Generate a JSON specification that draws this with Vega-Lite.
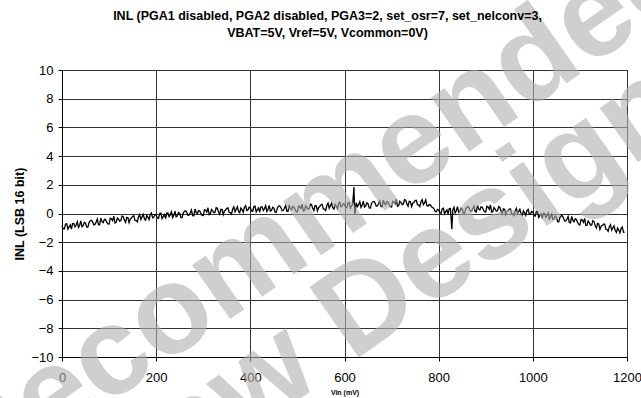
{
  "$schema": "https://vega.github.io/schema/vega-lite/v6.json",
  "width": 565,
  "height": 287,
  "autosize": {"type": "none"},
  "padding": {"left": 62, "top": 70, "right": 14, "bottom": 41},
  "background": "white",
  "config": {
    "font": "Liberation Sans",
    "view": {"stroke": "black", "strokeWidth": 1},
    "axis": {"labelFont": "Liberation Sans", "titleFont": "Liberation Sans", "labelColor": "black", "titleColor": "black", "domainColor": "black", "tickColor": "black", "gridColor": "#333333", "gridOpacity": 1, "gridWidth": 1, "tickSize": 4, "domainWidth": 1, "labelOverlap": false}
  },
  "title": {
    "text": ["INL (PGA1 disabled, PGA2 disabled, PGA3=2, set_osr=7, set_nelconv=3,", "VBAT=5V, Vref=5V, Vcommon=0V)"],
    "font": "Liberation Sans",
    "fontSize": 12.5,
    "fontWeight": "bold",
    "color": "black",
    "anchor": "middle",
    "frame": "group",
    "dx": -17,
    "dy": 166,
    "offset": 30,
    "lineHeight": 17
  },
  "datasets": {
    "inl": [
      {"v":0,"inl":-0.85},{"v":5,"inl":-1.08},{"v":10,"inl":-0.71},{"v":15,"inl":-0.93},{"v":20,"inl":-1.08},{"v":25,"inl":-0.69},{"v":30,"inl":-0.80},{"v":35,"inl":-0.97},{"v":40,"inl":-0.52},{"v":45,"inl":-0.85},
      {"v":50,"inl":-0.68},{"v":55,"inl":-0.95},{"v":60,"inl":-0.50},{"v":65,"inl":-0.58},{"v":70,"inl":-0.76},{"v":75,"inl":-0.39},{"v":80,"inl":-0.79},{"v":85,"inl":-0.57},{"v":90,"inl":-0.41},{"v":95,"inl":-0.60},
      {"v":100,"inl":-0.74},{"v":105,"inl":-0.37},{"v":110,"inl":-0.19},{"v":115,"inl":-0.62},{"v":120,"inl":-0.40},{"v":125,"inl":-0.49},{"v":130,"inl":-0.21},{"v":135,"inl":-0.62},{"v":140,"inl":-0.28},{"v":145,"inl":-0.39},
      {"v":150,"inl":-0.19},{"v":155,"inl":-0.48},{"v":160,"inl":-0.58},{"v":165,"inl":-0.07},{"v":170,"inl":-0.23},{"v":175,"inl":-0.38},{"v":180,"inl":-0.14},{"v":185,"inl":-0.43},{"v":190,"inl":0.03},{"v":195,"inl":-0.26},
      {"v":200,"inl":-0.10},{"v":205,"inl":-0.34},{"v":210,"inl":0.03},{"v":215,"inl":-0.21},{"v":220,"inl":-0.36},{"v":225,"inl":0.03},{"v":230,"inl":-0.09},{"v":235,"inl":-0.28},{"v":240,"inl":0.17},{"v":245,"inl":-0.17},
      {"v":250,"inl":0.00},{"v":255,"inl":-0.29},{"v":260,"inl":0.16},{"v":265,"inl":0.08},{"v":270,"inl":-0.11},{"v":275,"inl":0.25},{"v":280,"inl":-0.16},{"v":285,"inl":0.06},{"v":290,"inl":0.21},{"v":295,"inl":0.01},
      {"v":300,"inl":-0.14},{"v":305,"inl":0.23},{"v":310,"inl":0.40},{"v":315,"inl":-0.03},{"v":320,"inl":0.18},{"v":325,"inl":0.09},{"v":330,"inl":0.36},{"v":335,"inl":-0.05},{"v":340,"inl":0.28},{"v":345,"inl":0.17},
      {"v":350,"inl":0.36},{"v":355,"inl":0.07},{"v":360,"inl":-0.04},{"v":365,"inl":0.47},{"v":370,"inl":0.30},{"v":375,"inl":0.15},{"v":380,"inl":0.38},{"v":385,"inl":0.09},{"v":390,"inl":0.54},{"v":395,"inl":0.25},
      {"v":400,"inl":0.40},{"v":405,"inl":0.15},{"v":410,"inl":0.51},{"v":415,"inl":0.26},{"v":420,"inl":0.09},{"v":425,"inl":0.46},{"v":430,"inl":0.34},{"v":435,"inl":0.14},{"v":440,"inl":0.57},{"v":445,"inl":0.22},
      {"v":450,"inl":0.38},{"v":455,"inl":0.08},{"v":460,"inl":0.51},{"v":465,"inl":0.41},{"v":470,"inl":0.22},{"v":475,"inl":0.56},{"v":480,"inl":0.14},{"v":485,"inl":0.34},{"v":490,"inl":0.49},{"v":495,"inl":0.27},
      {"v":500,"inl":0.11},{"v":505,"inl":0.48},{"v":510,"inl":0.65},{"v":515,"inl":0.22},{"v":520,"inl":0.43},{"v":525,"inl":0.34},{"v":530,"inl":0.61},{"v":535,"inl":0.20},{"v":540,"inl":0.53},{"v":545,"inl":0.42},
      {"v":550,"inl":0.61},{"v":555,"inl":0.32},{"v":560,"inl":0.21},{"v":565,"inl":0.72},{"v":570,"inl":0.55},{"v":575,"inl":0.40},{"v":580,"inl":0.63},{"v":585,"inl":0.34},{"v":590,"inl":0.79},{"v":595,"inl":0.50},
      {"v":600,"inl":0.65},{"v":605,"inl":0.41},{"v":610,"inl":0.77},{"v":615,"inl":0.52},{"v":620,"inl":1.85},{"v":622,"inl":-0.10},{"v":625,"inl":0.74},{"v":630,"inl":0.62},{"v":635,"inl":0.42},{"v":640,"inl":0.86},{"v":645,"inl":0.52},
      {"v":650,"inl":0.68},{"v":655,"inl":0.38},{"v":660,"inl":0.82},{"v":665,"inl":0.73},{"v":670,"inl":0.54},{"v":675,"inl":0.88},{"v":680,"inl":0.47},{"v":685,"inl":0.68},{"v":690,"inl":0.83},{"v":695,"inl":0.61},
      {"v":700,"inl":0.46},{"v":705,"inl":0.82},{"v":710,"inl":0.99},{"v":715,"inl":0.55},{"v":720,"inl":0.76},{"v":725,"inl":0.66},{"v":730,"inl":0.93},{"v":735,"inl":0.51},{"v":740,"inl":0.83},{"v":745,"inl":0.72},
      {"v":750,"inl":0.90},{"v":755,"inl":0.61},{"v":760,"inl":0.49},{"v":765,"inl":0.96},{"v":770,"inl":0.74},{"v":775,"inl":0.55},{"v":780,"inl":0.62},{"v":785,"inl":0.45},{"v":790,"inl":0.33},{"v":795,"inl":0.12},
      {"v":800,"inl":0.25},{"v":805,"inl":0.01},{"v":810,"inl":0.37},{"v":815,"inl":0.13},{"v":820,"inl":-0.03},{"v":825,"inl":0.35},{"v":828,"inl":-1.10},{"v":830,"inl":0.23},{"v":835,"inl":0.04},{"v":840,"inl":0.48},{"v":845,"inl":0.14},
      {"v":850,"inl":0.30},{"v":855,"inl":0.01},{"v":860,"inl":0.45},{"v":865,"inl":0.36},{"v":870,"inl":0.17},{"v":875,"inl":0.52},{"v":880,"inl":0.11},{"v":885,"inl":0.32},{"v":890,"inl":0.47},{"v":895,"inl":0.26},
      {"v":900,"inl":0.11},{"v":905,"inl":0.45},{"v":910,"inl":0.59},{"v":915,"inl":0.13},{"v":920,"inl":0.31},{"v":925,"inl":0.19},{"v":930,"inl":0.43},{"v":935,"inl":-0.01},{"v":940,"inl":0.29},{"v":945,"inl":0.15},
      {"v":950,"inl":0.31},{"v":955,"inl":-0.01},{"v":960,"inl":-0.14},{"v":965,"inl":0.35},{"v":970,"inl":0.15},{"v":975,"inl":-0.03},{"v":980,"inl":0.18},{"v":985,"inl":-0.14},{"v":990,"inl":0.29},{"v":995,"inl":-0.03},
      {"v":1000,"inl":0.10},{"v":1005,"inl":-0.18},{"v":1010,"inl":0.14},{"v":1015,"inl":-0.14},{"v":1020,"inl":-0.34},{"v":1025,"inl":0.00},{"v":1030,"inl":-0.16},{"v":1035,"inl":-0.39},{"v":1040,"inl":0.01},{"v":1045,"inl":-0.37},
      {"v":1050,"inl":-0.25},{"v":1055,"inl":-0.58},{"v":1060,"inl":-0.17},{"v":1065,"inl":-0.30},{"v":1070,"inl":-0.52},{"v":1075,"inl":-0.21},{"v":1080,"inl":-0.65},{"v":1085,"inl":-0.48},{"v":1090,"inl":-0.36},{"v":1095,"inl":-0.61},
      {"v":1100,"inl":-0.79},{"v":1105,"inl":-0.47},{"v":1110,"inl":-0.34},{"v":1115,"inl":-0.82},{"v":1120,"inl":-0.65},{"v":1125,"inl":-0.79},{"v":1130,"inl":-0.56},{"v":1135,"inl":-1.02},{"v":1140,"inl":-0.73},{"v":1145,"inl":-0.89},
      {"v":1150,"inl":-0.74},{"v":1155,"inl":-1.08},{"v":1160,"inl":-1.24},{"v":1165,"inl":-0.78},{"v":1170,"inl":-1.00},{"v":1175,"inl":-1.19},{"v":1180,"inl":-1.01},{"v":1185,"inl":-1.35},{"v":1190,"inl":-0.95},{"v":1195,"inl":-1.29},
      {"v":2.5,"inl":-1.06},{"v":7.5,"inl":-0.74},{"v":12.5,"inl":-1.09},{"v":17.5,"inl":-0.79},{"v":22.5,"inl":-0.70},{"v":27.5,"inl":-0.93},{"v":32.5,"inl":-0.58},{"v":37.5,"inl":-0.82},{"v":42.5,"inl":-0.92},{"v":47.5,"inl":-0.62},
      {"v":52.5,"inl":-0.95},{"v":57.5,"inl":-0.63},{"v":62.5,"inl":-0.47},{"v":67.5,"inl":-0.79},{"v":72.5,"inl":-0.60},{"v":77.5,"inl":-0.78},{"v":82.5,"inl":-0.32},{"v":87.5,"inl":-0.64},{"v":92.5,"inl":-0.43},{"v":97.5,"inl":-0.73},
      {"v":102.5,"inl":-0.33},{"v":107.5,"inl":-0.50},{"v":112.5,"inl":-0.66},{"v":117.5,"inl":-0.31},{"v":122.5,"inl":-0.53},{"v":127.5,"inl":-0.18},{"v":132.5,"inl":-0.46},{"v":137.5,"inl":-0.27},{"v":142.5,"inl":-0.63},{"v":147.5,"inl":-0.32},
      {"v":152.5,"inl":-0.16},{"v":157.5,"inl":-0.49},{"v":162.5,"inl":-0.23},{"v":167.5,"inl":-0.42},{"v":172.5,"inl":-0.06},{"v":177.5,"inl":-0.47},{"v":182.5,"inl":-0.25},{"v":187.5,"inl":-0.08},{"v":192.5,"inl":-0.30},{"v":197.5,"inl":-0.07},
      {"v":202.5,"inl":-0.31},{"v":207.5,"inl":0.00},{"v":212.5,"inl":-0.36},{"v":217.5,"inl":-0.07},{"v":222.5,"inl":0.02},{"v":227.5,"inl":-0.22},{"v":232.5,"inl":0.12},{"v":237.5,"inl":-0.13},{"v":242.5,"inl":-0.23},{"v":247.5,"inl":0.06},
      {"v":252.5,"inl":-0.28},{"v":257.5,"inl":0.03},{"v":262.5,"inl":0.19},{"v":267.5,"inl":-0.14},{"v":272.5,"inl":0.04},{"v":277.5,"inl":-0.15},{"v":282.5,"inl":0.31},{"v":287.5,"inl":-0.02},{"v":292.5,"inl":0.18},{"v":297.5,"inl":-0.13},
      {"v":302.5,"inl":0.27},{"v":307.5,"inl":0.10},{"v":312.5,"inl":-0.08},{"v":317.5,"inl":0.28},{"v":322.5,"inl":0.05},{"v":327.5,"inl":0.40},{"v":332.5,"inl":0.11},{"v":337.5,"inl":0.30},{"v":342.5,"inl":-0.08},{"v":347.5,"inl":0.24},
      {"v":352.5,"inl":0.39},{"v":357.5,"inl":0.06},{"v":362.5,"inl":0.31},{"v":367.5,"inl":0.12},{"v":372.5,"inl":0.47},{"v":377.5,"inl":0.06},{"v":382.5,"inl":0.27},{"v":387.5,"inl":0.44},{"v":392.5,"inl":0.21},{"v":397.5,"inl":0.44},
      {"v":402.5,"inl":0.18},{"v":407.5,"inl":0.48},{"v":412.5,"inl":0.11},{"v":417.5,"inl":0.39},{"v":422.5,"inl":0.46},{"v":427.5,"inl":0.21},{"v":432.5,"inl":0.54},{"v":437.5,"inl":0.28},{"v":442.5,"inl":0.16},{"v":447.5,"inl":0.44},
      {"v":452.5,"inl":0.09},{"v":457.5,"inl":0.39},{"v":462.5,"inl":0.53},{"v":467.5,"inl":0.19},{"v":472.5,"inl":0.36},{"v":477.5,"inl":0.16},{"v":482.5,"inl":0.60},{"v":487.5,"inl":0.26},{"v":492.5,"inl":0.45},{"v":497.5,"inl":0.13},
      {"v":502.5,"inl":0.52},{"v":507.5,"inl":0.35},{"v":512.5,"inl":0.18},{"v":517.5,"inl":0.53},{"v":522.5,"inl":0.30},{"v":527.5,"inl":0.65},{"v":532.5,"inl":0.36},{"v":537.5,"inl":0.55},{"v":542.5,"inl":0.18},{"v":547.5,"inl":0.49},
      {"v":552.5,"inl":0.64},{"v":557.5,"inl":0.31},{"v":562.5,"inl":0.56},{"v":567.5,"inl":0.37},{"v":572.5,"inl":0.72},{"v":577.5,"inl":0.31},{"v":582.5,"inl":0.52},{"v":587.5,"inl":0.69},{"v":592.5,"inl":0.46},{"v":597.5,"inl":0.69},
      {"v":602.5,"inl":0.43},{"v":607.5,"inl":0.74},{"v":612.5,"inl":0.37},{"v":617.5,"inl":0.66},{"v":627.5,"inl":0.49},{"v":632.5,"inl":0.82},{"v":637.5,"inl":0.57},{"v":642.5,"inl":0.45},{"v":647.5,"inl":0.74},
      {"v":652.5,"inl":0.39},{"v":657.5,"inl":0.70},{"v":662.5,"inl":0.84},{"v":667.5,"inl":0.51},{"v":672.5,"inl":0.68},{"v":677.5,"inl":0.49},{"v":682.5,"inl":0.93},{"v":687.5,"inl":0.60},{"v":692.5,"inl":0.79},{"v":697.5,"inl":0.48},
      {"v":702.5,"inl":0.86},{"v":707.5,"inl":0.69},{"v":712.5,"inl":0.51},{"v":717.5,"inl":0.85},{"v":722.5,"inl":0.62},{"v":727.5,"inl":0.96},{"v":732.5,"inl":0.67},{"v":737.5,"inl":0.85},{"v":742.5,"inl":0.48},{"v":747.5,"inl":0.78},
      {"v":752.5,"inl":0.92},{"v":757.5,"inl":0.59},{"v":762.5,"inl":0.83},{"v":767.5,"inl":0.62},{"v":772.5,"inl":0.95},{"v":777.5,"inl":0.51},{"v":782.5,"inl":0.60},{"v":787.5,"inl":0.42},{"v":792.5,"inl":0.14},{"v":797.5,"inl":0.29},
      {"v":802.5,"inl":0.03},{"v":807.5,"inl":0.34},{"v":812.5,"inl":-0.03},{"v":817.5,"inl":0.26},{"v":822.5,"inl":0.34},{"v":832.5,"inl":0.44},{"v":837.5,"inl":0.19},{"v":842.5,"inl":0.08},{"v":847.5,"inl":0.37},
      {"v":852.5,"inl":0.02},{"v":857.5,"inl":0.33},{"v":862.5,"inl":0.48},{"v":867.5,"inl":0.15},{"v":872.5,"inl":0.32},{"v":877.5,"inl":0.13},{"v":882.5,"inl":0.58},{"v":887.5,"inl":0.25},{"v":892.5,"inl":0.44},{"v":897.5,"inl":0.13},
      {"v":902.5,"inl":0.50},{"v":907.5,"inl":0.30},{"v":912.5,"inl":0.10},{"v":917.5,"inl":0.42},{"v":922.5,"inl":0.16},{"v":927.5,"inl":0.48},{"v":932.5,"inl":0.16},{"v":937.5,"inl":0.32},{"v":942.5,"inl":-0.08},{"v":947.5,"inl":0.20},
      {"v":952.5,"inl":0.32},{"v":957.5,"inl":-0.03},{"v":962.5,"inl":0.19},{"v":967.5,"inl":-0.02},{"v":972.5,"inl":0.30},{"v":977.5,"inl":-0.13},{"v":982.5,"inl":0.05},{"v":987.5,"inl":0.20},{"v":992.5,"inl":-0.06},{"v":997.5,"inl":0.15},
      {"v":1002.5,"inl":-0.14},{"v":1007.5,"inl":0.14},{"v":1012.5,"inl":-0.28},{"v":1017.5,"inl":-0.03},{"v":1022.5,"inl":0.02},{"v":1027.5,"inl":-0.27},{"v":1032.5,"inl":0.03},{"v":1037.5,"inl":-0.27},{"v":1042.5,"inl":-0.42},{"v":1047.5,"inl":-0.17},
      {"v":1052.5,"inl":-0.55},{"v":1057.5,"inl":-0.28},{"v":1062.5,"inl":-0.16},{"v":1067.5,"inl":-0.53},{"v":1072.5,"inl":-0.39},{"v":1077.5,"inl":-0.62},{"v":1082.5,"inl":-0.20},{"v":1087.5,"inl":-0.57},{"v":1092.5,"inl":-0.41},{"v":1097.5,"inl":-0.76},
      {"v":1102.5,"inl":-0.41},{"v":1107.5,"inl":-0.62},{"v":1112.5,"inl":-0.84},{"v":1117.5,"inl":-0.53},{"v":1122.5,"inl":-0.81},{"v":1127.5,"inl":-0.50},{"v":1132.5,"inl":-0.84},{"v":1137.5,"inl":-0.69},{"v":1142.5,"inl":-1.11},{"v":1147.5,"inl":-0.84},
      {"v":1152.5,"inl":-0.74},{"v":1157.5,"inl":-1.12},{"v":1162.5,"inl":-0.92},{"v":1167.5,"inl":-1.16},{"v":1172.5,"inl":-0.86},{"v":1177.5,"inl":-1.32},{"v":1182.5,"inl":-1.15},{"v":1187.5,"inl":-1.03},{"v":1192.5,"inl":-1.31}
    ],
    "watermark": [
      {"v": 378, "inl": -6.86, "text": "Not Recommended"},
      {"v": 610, "inl": -10.5, "text": "for New Designs"}
    ]
  },
  "layer": [
    {
      "data": {"name": "inl"},
      "mark": {"type": "line", "color": "black", "strokeWidth": 1.3},
      "encoding": {
        "x": {
          "field": "v", "type": "quantitative",
          "scale": {"domain": [0, 1200], "nice": false, "zero": false},
          "axis": {"values": [0, 200, 400, 600, 800, 1000, 1200], "tickCount": 7, "format": "d", "title": "Vin (mV)", "titleFontSize": 7, "titleFontWeight": "bold", "titlePadding": 4, "labelFontSize": 13, "labelPadding": 10, "labelFlush": false, "labelOverlap": false, "grid": true}
        },
        "y": {
          "field": "inl", "type": "quantitative",
          "scale": {"domain": [-10, 10], "nice": false},
          "axis": {"values": [-10, -8, -6, -4, -2, 0, 2, 4, 6, 8, 10], "tickCount": 11, "format": "d", "title": "INL (LSB 16 bit)", "titleFontSize": 12.5, "titleFontWeight": "bold", "titlePadding": 4, "labelFontSize": 13, "labelPadding": 5, "labelFlush": false, "labelOverlap": false, "grid": true}
        }
      }
    },
    {
      "data": {"name": "watermark"},
      "mark": {"type": "text", "font": "Liberation Sans", "fontWeight": "bold", "fontSize": 125, "angle": -35, "align": "center", "baseline": "alphabetic", "color": "#b0b0b0", "opacity": 0.6},
      "encoding": {
        "x": {"field": "v", "type": "quantitative"},
        "y": {"field": "inl", "type": "quantitative"},
        "text": {"field": "text", "type": "nominal"}
      }
    }
  ]
}
